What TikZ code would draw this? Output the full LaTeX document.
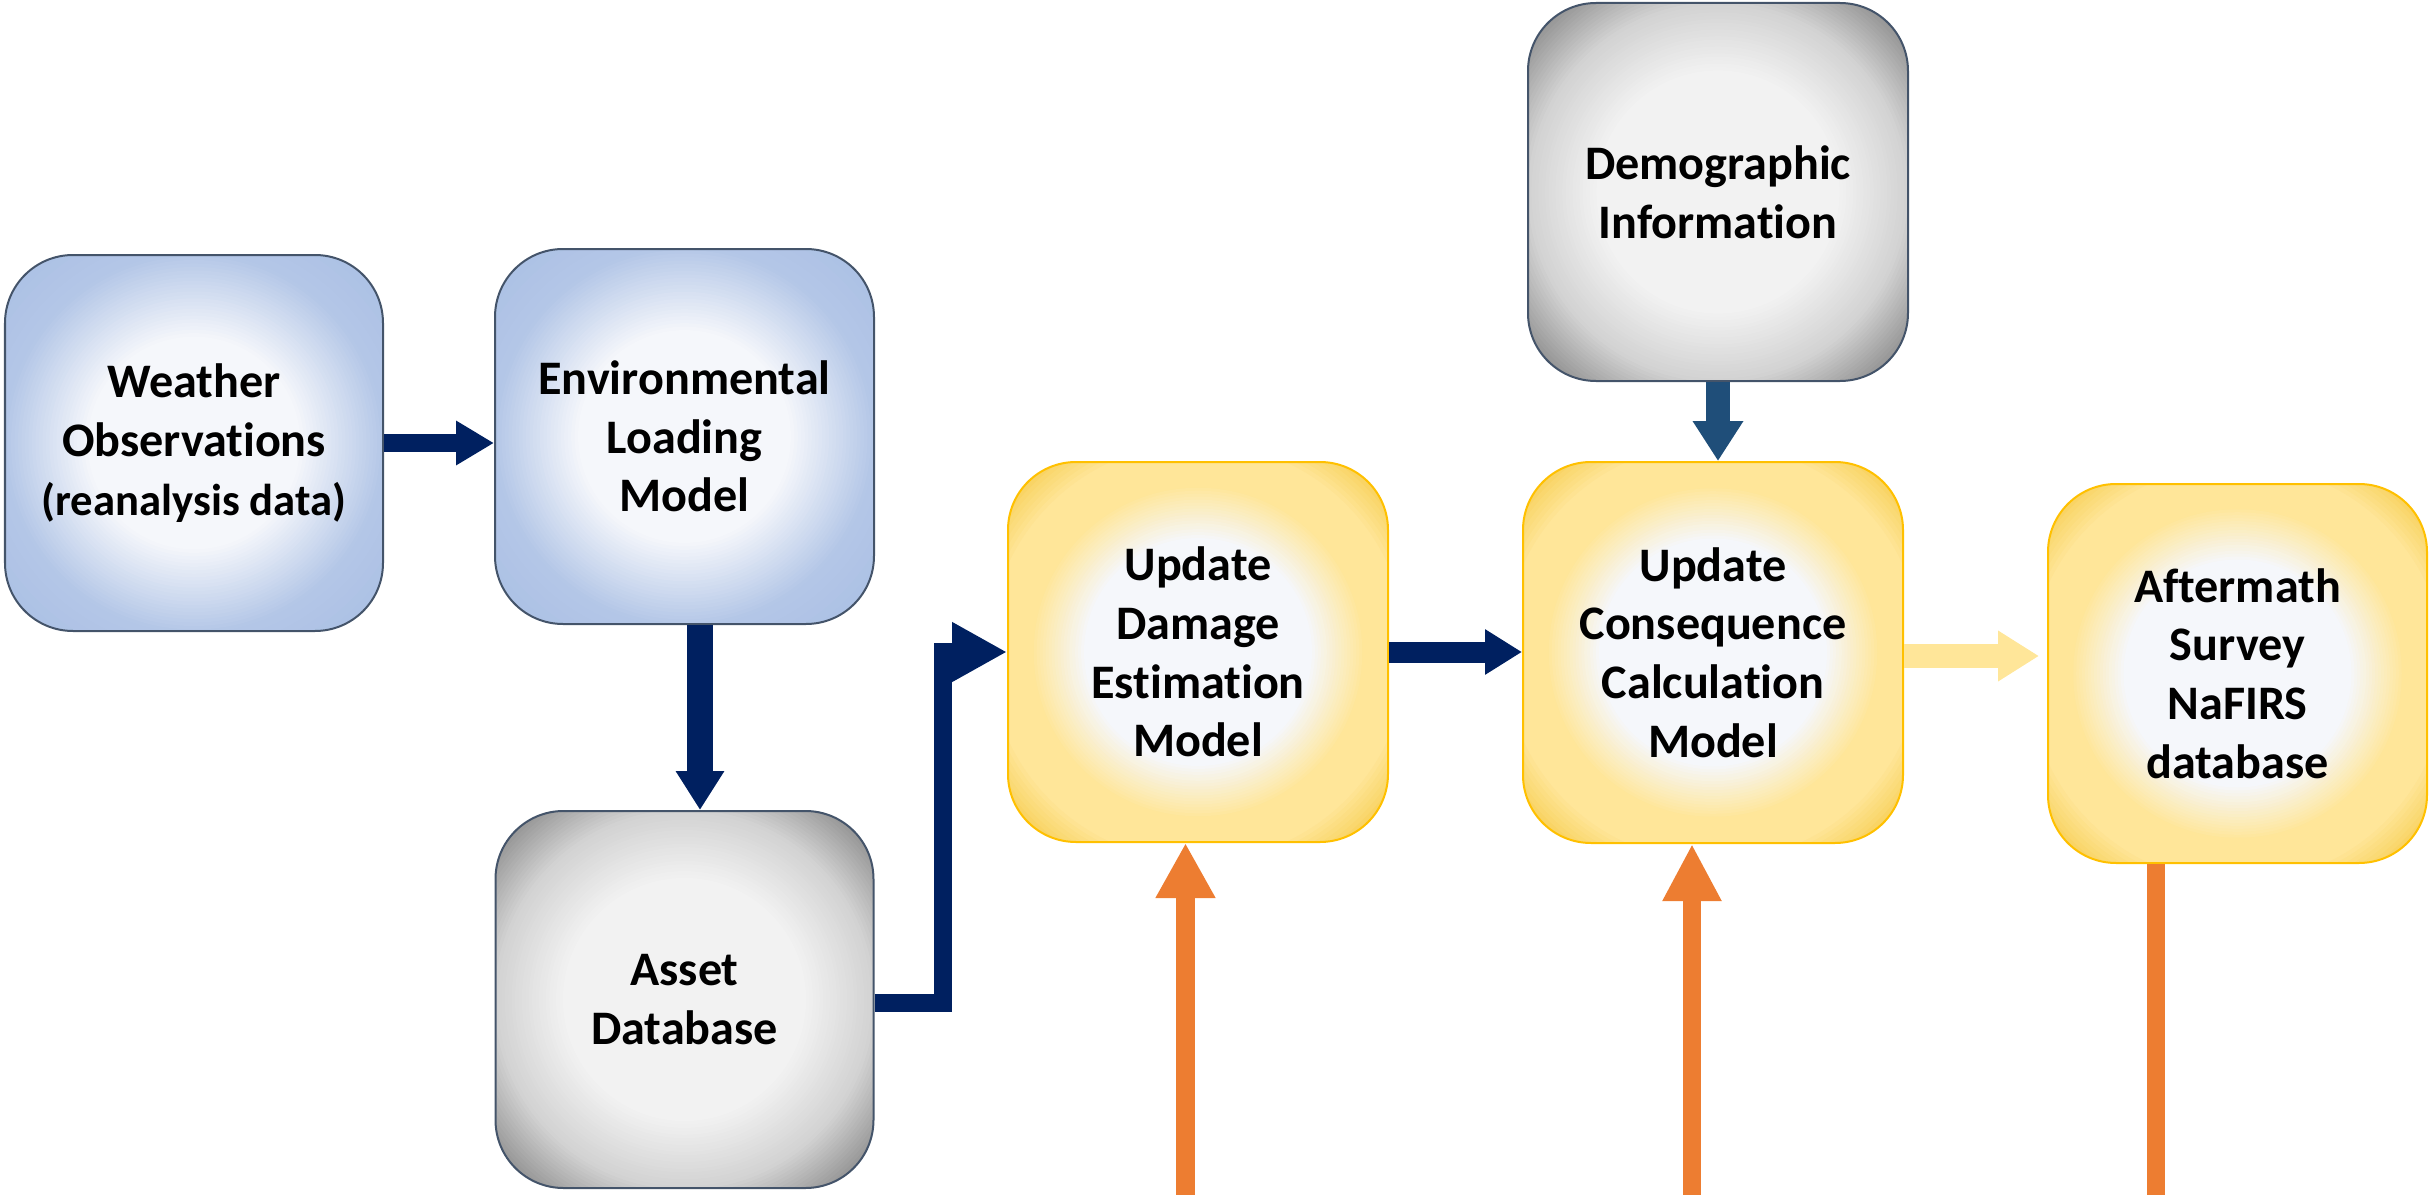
\documentclass[tikz,border=0pt]{standalone}
\usepackage{fontspec}
\setmainfont{Carlito}[Ligatures=NoCommon]
\usetikzlibrary{arrows.meta}
\definecolor{navy}{HTML}{002060}
\definecolor{steel}{HTML}{1F4E79}
\definecolor{orng}{HTML}{ED7D31}
\definecolor{lyel}{HTML}{FFE699}
\definecolor{slate}{HTML}{44546A}
\definecolor{gold}{HTML}{FFC000}
\definecolor{bcenter}{HTML}{F5F7FB}
\definecolor{bedge}{HTML}{B4C7E7}
\definecolor{bcorner}{HTML}{A9BEE4}
\definecolor{gcenter}{HTML}{F2F2F2}
\definecolor{gmid}{HTML}{D2D2D2}
\definecolor{gedge}{HTML}{9A9A9A}
\definecolor{gcorner}{HTML}{7A7A7A}
\definecolor{yedge}{HTML}{FFE699}
\definecolor{ycorner}{HTML}{F2C232}
% radial segment: from fraction #1 (colour #2) to fraction #3 (colour #4), #5 steps, outer first
\newcommand\radseg[5]{%
  \foreach \i in {#5,...,0}{%
    \pgfmathsetmacro\rr{(#1+(#3-#1)*\i/#5)*1.9}%
    \pgfmathtruncatemacro\pp{100*\i/#5}%
    \fill[#4!\pp!#2] (path picture bounding box.center) circle[radius=\rr cm];}}
\tikzset{
  box/.style={shape=rectangle, rounded corners=0.68cm, minimum width=3.78cm, minimum height=3.77cm,
    align=center, inner sep=0pt, line width=0.02cm, text=black,
    font=\bfseries\fontsize{13.7}{16.7}\selectfont},
  bluebox/.style={box, draw=slate, path picture={%
    \radseg{1.0}{bedge}{1.42}{bcorner}{10}\radseg{0.56}{bcenter}{1.0}{bedge}{24}}},
  graybox/.style={box, draw=slate, path picture={%
    \radseg{1.25}{gedge}{1.42}{gcorner}{8}\radseg{1.0}{gmid}{1.25}{gedge}{14}\radseg{0.64}{gcenter}{1.0}{gmid}{20}}},
  yelbox/.style={box, draw=gold, path picture={%
    \radseg{1.1}{yedge}{1.42}{ycorner}{14}\radseg{0.88}{yedge}{1.1}{yedge}{1}\radseg{0.6}{bcenter}{0.88}{yedge}{18}}},
}
\begin{document}
\begin{tikzpicture}
\useasboundingbox (0,0) rectangle (24.32,-11.95);
\node[bluebox, minimum height=3.76cm] (w) at (1.94,-4.43) {Weather\\Observations\\{\fontsize{12.7}{16.7}\selectfont (reanalysis data)}};
\node[bluebox, minimum width=3.79cm, minimum height=3.75cm] (e) at (6.845,-4.365) {Environmental\\Loading\\Model};
\node[graybox] (a) at (6.845,-9.995) {Asset\\Database};
\node[yelbox, minimum width=3.80cm, minimum height=3.80cm] (d) at (11.98,-6.52) {Update\\Damage\\Estimation\\Model};
\node[yelbox, minimum width=3.80cm, minimum height=3.81cm] (c) at (17.13,-6.525) {Update\\Consequence\\Calculation\\Model};
\node[graybox, minimum width=3.80cm, minimum height=3.78cm] (g) at (17.18,-1.92) {Demographic\\Information};
\node[yelbox, minimum width=3.79cm, minimum height=3.79cm] (f) at (22.375,-6.735) {Aftermath\\Survey\\NaFIRS\\database};

\draw[navy, line width=0.18cm, -{Triangle[length=0.38cm,width=0.42cm]}] (w.east) -- (w.east -| e.west);
\draw[navy, line width=0.26cm, -{Triangle[length=0.39cm,width=0.46cm]}] ([xshift=0.155cm]e.south) -- ([xshift=0.155cm]e.south |- a.north);
\draw[navy, line width=0.18cm, -{Triangle[length=0.55cm,width=0.56cm]}] ([yshift=-0.035cm]a.east) -- ++(0.68,0) |- (d.west);
\draw[navy, line width=0.21cm, -{Triangle[length=0.37cm,width=0.43cm]}] (d.east) -- (d.east -| c.west);
\draw[steel, line width=0.24cm, -{Triangle[length=0.40cm,width=0.48cm]}] (g.south) -- (g.south |- c.north);
\draw[lyel, line width=0.24cm, -{Triangle[length=0.41cm,width=0.48cm]}] ([yshift=-0.035cm]c.east) -- ([xshift=-0.08cm,yshift=-0.035cm]c.east -| f.west);
\coordinate (od) at (11.855,-11.95);
\coordinate (oc) at (16.92,-11.95);
\coordinate (of) at (21.56,-11.95);
\draw[orng, line width=0.19cm, -{Triangle[length=0.55cm,width=0.56cm]}] (od) -- (od |- d.south);
\draw[orng, line width=0.186cm, -{Triangle[length=0.57cm,width=0.55cm]}] (oc) -- (oc |- c.south);
\draw[orng, line width=0.18cm] (f.south -| of) -- (of);
\end{tikzpicture}
\end{document}
